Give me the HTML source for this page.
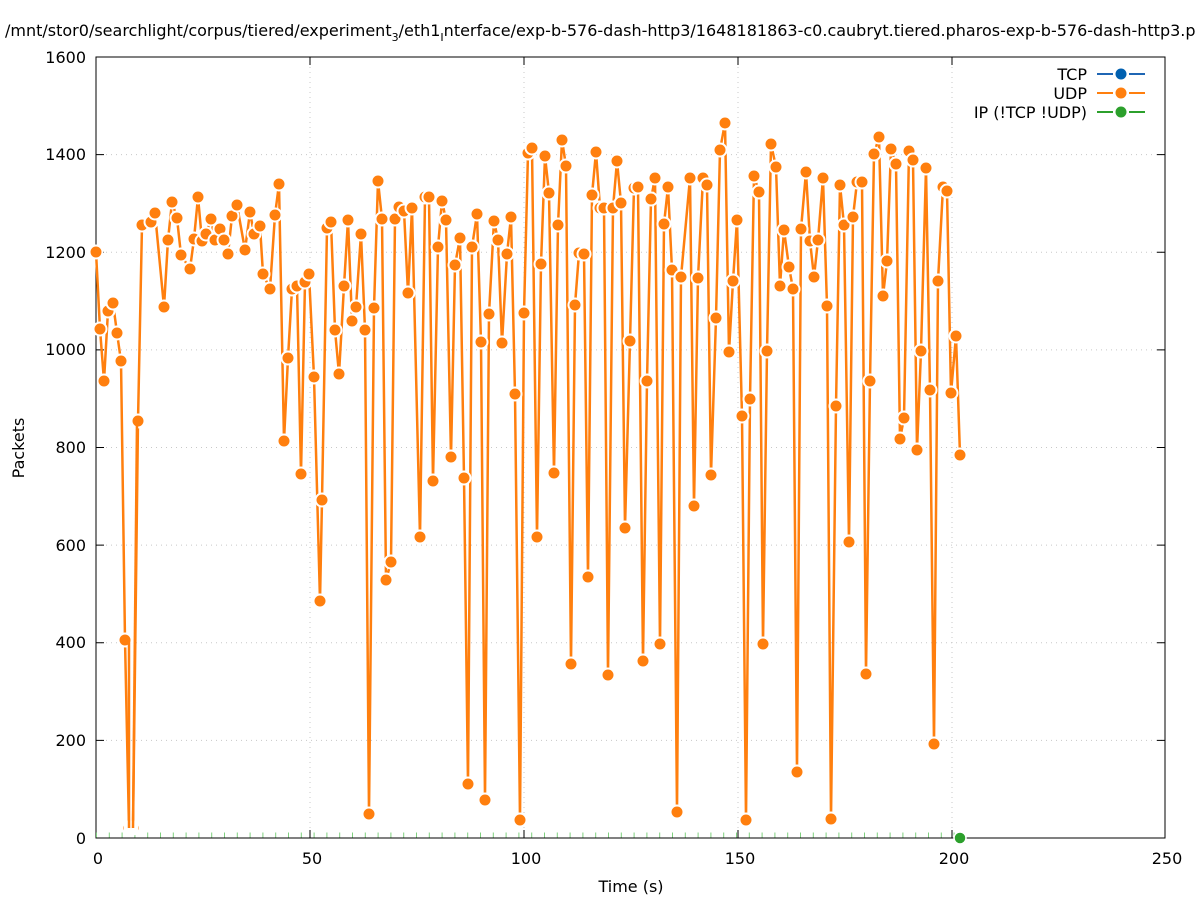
<!DOCTYPE html>
<html><head><meta charset="utf-8"><style>body{margin:0;background:#fff}svg{display:block}</style></head>
<body>
<svg width="1197" height="900" xmlns="http://www.w3.org/2000/svg" font-family="'DejaVu Sans','Liberation Sans',sans-serif">
<defs>
<marker id="m" viewBox="-8 -8 16 16" markerWidth="16" markerHeight="16" refX="0" refY="0" markerUnits="userSpaceOnUse">
<circle cx="0" cy="0" r="6.5" fill="#ff7f0e" stroke="#fff" stroke-width="2"/>
</marker>
</defs>
<rect width="1197" height="900" fill="#fff"/>
<text x="5" y="36" font-size="16" fill="#000">/mnt/stor0/searchlight/corpus/tiered/experiment<tspan font-size="11" dy="5">3</tspan><tspan dy="-5">/eth1</tspan><tspan font-size="11" dy="5">I</tspan><tspan dy="-5">nterface/exp-b-576-dash-http3/1648181863-c0.caubryt.tiered.pharos-exp-b-576-dash-http3.p</tspan></text>
<g stroke="#c8c8c8" stroke-dasharray="1,4" stroke-width="1">
<line x1="96" y1="740.4" x2="1165" y2="740.4"/><line x1="96" y1="642.8" x2="1165" y2="642.8"/><line x1="96" y1="545.1" x2="1165" y2="545.1"/><line x1="96" y1="447.5" x2="1165" y2="447.5"/><line x1="96" y1="349.9" x2="1165" y2="349.9"/><line x1="96" y1="252.3" x2="1165" y2="252.3"/><line x1="96" y1="154.6" x2="1165" y2="154.6"/>
<line x1="310" y1="57" x2="310" y2="838"/><line x1="524" y1="57" x2="524" y2="838"/><line x1="738" y1="57" x2="738" y2="838"/><line x1="952" y1="57" x2="952" y2="838"/>
</g>
<g stroke="#000" stroke-width="1">
<path d="M96 740.4h8M96 642.8h8M96 545.1h8M96 447.5h8M96 349.9h8M96 252.3h8M96 154.6h8M1165 740.4h-8M1165 642.8h-8M1165 545.1h-8M1165 447.5h-8M1165 349.9h-8M1165 252.3h-8M1165 154.6h-8M310 838v-8M524 838v-8M738 838v-8M952 838v-8M310 57v8M524 57v8M738 57v8M952 57v8"/>
<rect x="96" y="57" width="1069" height="781" fill="none"/>
</g>
<g font-size="16" fill="#000" text-anchor="end">
<text x="86" y="844">0</text><text x="86" y="746">200</text><text x="86" y="648">400</text><text x="86" y="551">600</text><text x="86" y="453">800</text><text x="86" y="355">1000</text><text x="86" y="258">1200</text><text x="86" y="160">1400</text><text x="86" y="63">1600</text>
</g>
<g font-size="16" fill="#000" text-anchor="middle">
<text x="98" y="864">0</text><text x="312" y="864">50</text><text x="526" y="864">100</text><text x="740" y="864">150</text><text x="954" y="864">200</text><text x="1167" y="864">250</text>
<text x="631" y="892">Time (s)</text>
</g>
<text x="24" y="448" font-size="16" text-anchor="middle" transform="rotate(-90 24 448)">Packets</text>
<line x1="96" y1="835" x2="960" y2="835" stroke="#7fd07f" stroke-width="5" stroke-dasharray="1,11.8"/>
<polyline fill="none" stroke="#ff7f0e" stroke-width="2.5" stroke-linejoin="round" marker-start="url(#m)" marker-mid="url(#m)" marker-end="url(#m)" points="96,252 100,329 104,381 108,311 113,303 117,333 121,361 125,640 129,828 133,828 138,421 142,225 151,222 155,213 164,307 168,240 172,202 177,218 181,255 190,269 194,239 198,197 202,241 206,234 211,219 215,240 220,229 224,240 228,254 232,216 237,205 245,250 250,212 254,234 260,226 263,274 270,289 275,215 279,184 284,441 288,358 292,289 297,286 301,474 305,282 309,274 314,377 320,601 322,500 327,228 331,222 335,330 339,374 344,286 348,220 352,321 356,307 361,234 365,330 369,814 374,308 378,181 382,219 386,580 391,562 395,219 399,207 404,211 408,293 412,208 420,537 425,197 429,197 433,481 438,247 442,201 446,220 451,457 455,265 460,238 464,478 468,784 472,247 477,214 481,342 485,800 489,314 494,221 498,240 502,343 507,254 511,217 515,394 520,820 524,313 528,153 532,148 537,537 541,264 545,156 549,193 554,473 558,225 562,140 566,166 571,664 575,305 579,253 584,254 588,577 592,195 596,152 600,208 604,208 608,675 613,208 617,161 621,203 625,528 630,341 634,188 638,187 643,661 647,381 651,199 655,178 660,644 664,224 668,187 672,270 677,812 681,277 690,178 694,506 698,278 703,178 707,185 711,475 716,318 720,150 725,123 729,352 733,281 737,220 742,416 746,820 750,399 754,176 759,192 763,644 767,351 771,144 776,167 780,286 784,230 789,267 793,289 797,772 801,229 806,172 810,241 814,277 818,240 823,178 827,306 831,819 836,406 840,185 844,225 849,542 853,217 857,182 862,182 866,674 870,381 874,154 879,137 883,296 887,261 891,149 896,164 900,439 904,418 909,151 913,160 917,450 921,351 926,168 930,390 934,744 938,281 943,187 947,191 951,393 956,336 960,455"/>
<rect x="124" y="822" width="14" height="12" fill="#fff"/>
<line x1="129" y1="640" x2="129" y2="828" stroke="#ff7f0e" stroke-width="2.5"/>
<line x1="133" y1="828" x2="137" y2="421" stroke="#ff7f0e" stroke-width="2.5"/>
<circle cx="960" cy="838" r="6" fill="#2ca02c" stroke="#fff" stroke-width="1.5"/>
<g font-size="16" text-anchor="end" fill="#000">
<text x="1087" y="80">TCP</text><text x="1087" y="99">UDP</text><text x="1087" y="118">IP (!TCP  !UDP)</text>
</g>
<g stroke-width="2">
<line x1="1097" y1="74" x2="1145" y2="74" stroke="#1f66b4"/><line x1="1097" y1="93" x2="1145" y2="93" stroke="#ff7f0e"/><line x1="1097" y1="112" x2="1145" y2="112" stroke="#2ca02c"/>
</g>
<g stroke="#fff" stroke-width="4">
<line x1="1113" y1="74" x2="1129" y2="74"/><line x1="1113" y1="93" x2="1129" y2="93"/><line x1="1113" y1="112" x2="1129" y2="112"/>
</g>
<circle cx="1121" cy="74" r="5.5" fill="#0060b0"/><circle cx="1121" cy="93" r="5.5" fill="#ff7f0e"/><circle cx="1121" cy="112" r="5.5" fill="#2ca02c"/>
</svg>
</body></html>
